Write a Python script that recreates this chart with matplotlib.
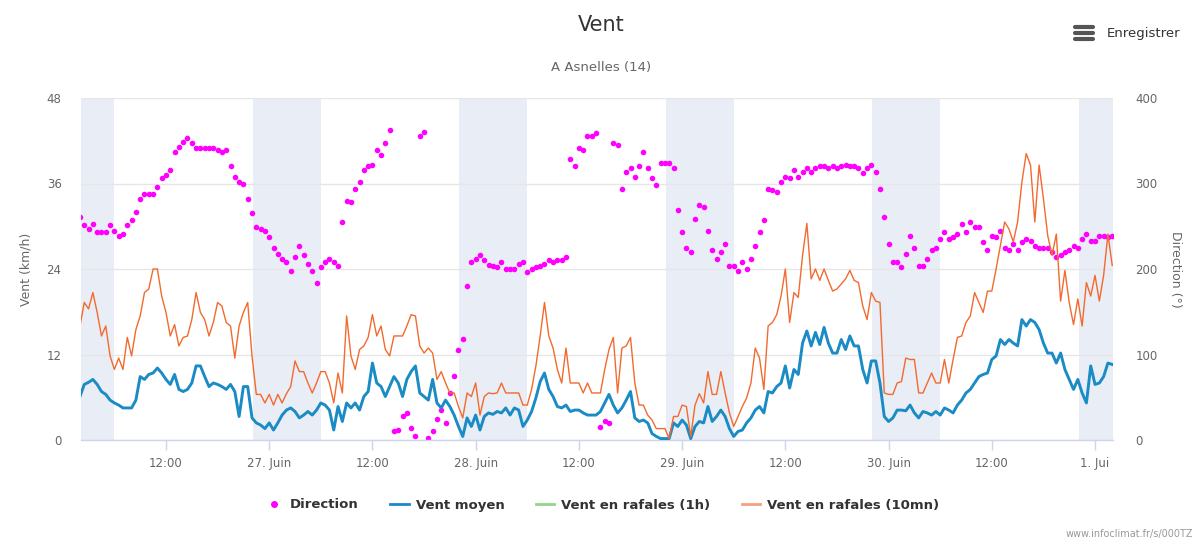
import numpy as np
import matplotlib
matplotlib.use('Agg')
import matplotlib.pyplot as plt
from matplotlib.lines import Line2D

plt.rcParams['font.family'] = ['DejaVu Sans']

# time in hours since 26 June 00:00, every 30 min
hours = np.arange(2.0, 122.01, 0.5)

vent_moyen = [
    6.1, 7.8, 8.1, 8.5, 7.8, 6.8, 6.4, 5.6, 5.2, 4.9, 4.5, 4.5, 4.5, 5.6, 8.9, 8.5,
    9.2, 9.4, 10.1, 9.4, 8.5, 7.8, 9.2, 7.1, 6.8, 7.1, 8.0, 10.4, 10.4, 8.9, 7.5, 8.0,
    7.8, 7.5, 7.1, 7.8, 6.8, 3.3, 7.5, 7.5, 3.1, 2.4, 2.1, 1.6, 2.4, 1.4, 2.4, 3.5,
    4.2, 4.5, 4.0, 3.1, 3.5, 4.0, 3.5, 4.2, 5.2, 4.9, 4.2, 1.4, 4.7, 2.6, 5.2, 4.5,
    5.2, 4.2, 6.1, 6.8, 10.8, 8.0, 7.5, 6.1, 7.5, 8.9, 8.0, 6.1, 8.5, 9.6, 10.4, 6.6,
    6.1, 5.6, 8.5, 5.2, 4.5, 5.6, 4.7, 3.5, 1.9, 0.5, 3.1, 1.9, 3.5, 1.4, 3.3, 3.8,
    3.6, 4.0, 3.8, 4.5, 3.5, 4.5, 4.2, 1.9, 2.8, 4.0, 5.9, 8.2, 9.4, 7.1, 6.1, 4.7,
    4.5, 4.9, 4.0, 4.2, 4.2, 3.8, 3.5, 3.5, 3.5, 4.0, 5.2, 6.4, 4.9, 3.8, 4.5, 5.6,
    6.8, 3.1, 2.6, 2.8, 2.4, 0.9, 0.5, 0.2, 0.2, 0.2, 2.4, 1.9, 2.8, 2.1, 0.2, 1.9,
    2.6, 2.4, 4.7, 2.6, 3.3, 4.2, 3.3, 1.6, 0.5, 1.2, 1.4, 2.4, 3.1, 4.2, 4.7, 3.8,
    6.8, 6.6, 7.5, 8.0, 10.4, 7.3, 9.9, 9.2, 13.6, 15.3, 13.2, 15.1, 13.4, 15.8, 13.6, 12.2,
    12.2, 14.1, 12.7, 14.6, 13.2, 13.2, 9.9, 8.0, 11.1, 11.1, 8.0, 3.3, 2.6, 3.1, 4.2, 4.2,
    4.1, 4.9, 3.8, 3.1, 4.0, 3.8, 3.5, 4.0, 3.5, 4.5, 4.2, 3.8, 4.9, 5.6, 6.6, 7.1,
    8.0, 8.9, 9.2, 9.4, 11.3, 11.8, 14.1, 13.4, 14.1, 13.6, 13.2, 16.9, 16.0, 16.9, 16.5, 15.5,
    13.6, 12.2, 12.2, 10.8, 12.2, 9.9, 8.5, 7.1, 8.5, 6.6, 5.2, 10.4, 7.8, 8.0, 8.9, 10.8,
    10.6,
]

rafales_10mn = [
    16.0, 19.3, 18.4, 20.7, 17.9, 14.6, 16.0, 11.8, 9.9, 11.5, 9.9, 14.4, 11.8, 15.5, 17.4, 20.7,
    21.2, 24.0, 24.0, 20.2, 17.9, 14.6, 16.2, 13.2, 14.4, 14.6, 16.9, 20.7, 17.9, 16.9, 14.6, 16.5,
    19.3, 18.8, 16.5, 16.0, 11.5, 16.0, 17.9, 19.3, 11.8, 6.4, 6.4, 5.2, 6.4, 4.9, 6.4, 5.2,
    6.5, 7.5, 11.1, 9.6, 9.6, 8.0, 6.6, 8.0, 9.6, 9.6, 8.0, 5.2, 9.4, 6.6, 17.4, 11.8,
    9.9, 12.7, 13.2, 14.4, 17.6, 14.6, 16.0, 12.7, 11.8, 14.6, 14.6, 14.6, 16.0, 17.6, 17.4, 13.2,
    12.2, 12.9, 12.2, 8.5, 9.6, 8.0, 6.6, 6.6, 4.7, 3.1, 6.6, 6.1, 8.0, 3.5, 6.1, 6.6,
    6.5, 6.6, 8.0, 6.6, 6.6, 6.6, 6.6, 4.9, 4.9, 7.1, 10.4, 14.6, 19.3, 14.6, 12.9, 9.9,
    8.0, 12.9, 8.0, 8.0, 8.0, 6.6, 8.0, 6.6, 6.6, 6.6, 9.9, 12.7, 14.4, 6.6, 12.9, 13.2,
    14.4, 8.0, 4.9, 4.9, 3.5, 2.8, 1.6, 1.6, 1.6, 0.2, 3.3, 3.3, 4.9, 4.7, 0.5, 4.9,
    6.5, 5.2, 9.6, 6.4, 6.4, 9.6, 6.6, 3.8, 1.9, 3.3, 4.7, 5.9, 8.0, 12.9, 11.5, 7.1,
    16.0, 16.5, 17.6, 20.2, 24.0, 16.5, 20.7, 20.0, 25.9, 30.4, 22.6, 24.0, 22.4, 24.0, 22.4, 20.9,
    21.2, 21.9, 22.6, 23.8, 22.4, 22.1, 18.8, 16.9, 20.7, 19.5, 19.3, 6.6, 6.4, 6.4, 8.0, 8.2,
    11.5, 11.3, 11.3, 6.6, 6.6, 8.0, 9.4, 8.0, 8.0, 11.3, 8.0, 11.3, 14.4, 14.6, 16.5, 17.4,
    20.7, 19.3, 17.9, 20.9, 20.9, 24.0, 27.3, 30.6, 29.6, 27.8, 30.6, 36.2, 40.2, 38.6, 30.6, 38.6,
    33.9, 28.7, 25.9, 28.9, 19.5, 23.8, 19.3, 16.2, 19.8, 16.0, 22.1, 20.2, 23.1, 19.5, 23.1, 28.9,
    24.5,
]

direction = [
    261, 251, 247, 253, 243, 243, 243, 251, 245, 239, 241, 251, 257, 267, 282, 288,
    288, 288, 296, 306, 310, 316, 337, 343, 349, 353, 347, 341, 341, 341, 341, 341,
    339, 337, 339, 320, 308, 302, 300, 282, 265, 249, 247, 245, 237, 224, 218, 212,
    208, 198, 214, 227, 216, 206, 198, 184, 202, 208, 212, 208, 204, 255, 280, 278,
    294, 302, 316, 320, 322, 339, 333, 347, 363, 10, 12, 28, 31, 14, 5, 355,
    360, 2, 10, 25, 35, 20, 55, 75, 105, 118, 180, 208, 212, 216, 210, 205,
    204, 202, 208, 200, 200, 200, 206, 208, 196, 200, 202, 204, 206, 210, 208, 210,
    210, 214, 329, 321, 341, 339, 355, 355, 359, 15, 22, 20, 347, 345, 294, 314,
    318, 308, 320, 337, 318, 306, 298, 324, 324, 324, 318, 269, 243, 225, 220, 259,
    275, 273, 245, 222, 212, 220, 229, 204, 204, 198, 208, 200, 212, 227, 243, 257,
    294, 292, 290, 302, 308, 306, 316, 308, 314, 318, 314, 318, 320, 320, 318, 320,
    318, 320, 322, 320, 320, 318, 312, 318, 322, 314, 294, 261, 229, 208, 208, 202,
    218, 239, 224, 204, 204, 212, 222, 225, 235, 243, 235, 237, 241, 253, 243, 255,
    249, 249, 231, 222, 239, 237, 245, 224, 222, 229, 222, 231, 235, 233, 227, 224,
    224, 224, 220, 214, 216, 220, 222, 227, 224, 235, 241, 233, 233, 239, 239, 237,
    239,
]

night_start = [2.0, 22.1, 46.1, 70.1, 94.1, 118.1]
night_end = [6.0, 30.0, 54.0, 78.0, 102.0, 122.1]

tick_hours = [12, 24, 36, 48, 60, 72, 84, 96, 108, 120]
tick_labels = ['12:00', '27. Juin', '12:00', '28. Juin', '12:00', '29. Juin',
               '12:00', '30. Juin', '12:00', '1. Jui']
left_ticks = [0, 12, 24, 36, 48]
right_ticks = [0, 100, 200, 300, 400]

C_DIR = '#ff00ff'
C_MOY = '#1a8bc4'
C_1H = '#90d68a'
C_10 = '#f26a2e'
C_10_LEG = '#f5a07a'
GRID = '#e6e6e6'
AXC = '#ccd6eb'
TXT = '#666666'

fig = plt.figure(figsize=(12.03, 5.42), dpi=100)
ax = fig.add_axes([81/1203, 1-440/542, (1113-81)/1203, (440-98)/542])
ax2 = ax.twinx()
ax.set_zorder(2)
ax2.set_zorder(1)
ax.patch.set_visible(False)
ax2.set_facecolor('white')

xmin, xmax = 2.12, 122.09
for s, e in zip(night_start, night_end):
    ax2.axvspan(s, e, color='#e9edf5', lw=0, zorder=0)

ax2.set_ylim(0, 400)
ax2.set_yticks(right_ticks)
ax2.yaxis.grid(True, color=GRID, lw=1)
ax2.set_axisbelow(True)
ax2.scatter(hours, direction, s=16, color=C_DIR, lw=0, zorder=3)

ax.plot(hours, vent_moyen, color=C_MOY, lw=2.1, zorder=3, solid_joinstyle='round')
ax.plot(hours, rafales_10mn, color=C_10, lw=1.0, zorder=4)
ax.set_ylim(0, 48)
ax.set_xlim(xmin, xmax)
ax2.set_xlim(xmin, xmax)
ax.set_yticks(left_ticks)
ax.set_xticks(tick_hours)
ax.set_xticklabels(tick_labels)

for a in (ax, ax2):
    for sp in ('top', 'left', 'right'):
        a.spines[sp].set_visible(False)
ax2.spines['bottom'].set_visible(False)
ax.spines['bottom'].set_color(AXC)
ax.spines['bottom'].set_linewidth(1)

ax.tick_params(axis='x', length=7.5, color=AXC, width=1, pad=5, labelsize=8.5, labelcolor=TXT)
ax.tick_params(axis='y', length=0, pad=14, labelsize=8.5, labelcolor=TXT)
ax2.tick_params(axis='y', length=0, pad=16, labelsize=8.5, labelcolor=TXT)
ax2.tick_params(axis='x', length=0, labelbottom=False)

ax.set_ylabel('Vent (km/h)', color=TXT, fontsize=9, labelpad=10)
ax2.set_ylabel('Direction (°)', color=TXT, fontsize=9, rotation=270, labelpad=18)

fig.text(0.5, 1-25/542, 'Vent', ha='center', va='center', fontsize=15, color='#333333')
fig.text(0.5, 1-67/542, 'A Asnelles (14)', ha='center', va='center', fontsize=9.5, color=TXT)
fig.text(1107/1203, 1-33/542, 'Enregistrer', ha='left', va='center', fontsize=9.5, color='#333333')
for yy in (27, 33, 39):
    fig.add_artist(Line2D([1075/1203, 1093/1203], [1-yy/542, 1-yy/542], color='#555555',
                          lw=3.0, solid_capstyle='round', transform=fig.transFigure))
fig.text(1193/1203, 1-534/542, 'www.infoclimat.fr/s/000TZ', ha='right', va='center',
         fontsize=7, color='#999999')

handles = [
    Line2D([], [], marker='o', ls='none', color=C_DIR, markersize=4),
    Line2D([], [], color=C_MOY, lw=2),
    Line2D([], [], color=C_1H, lw=2),
    Line2D([], [], color=C_10_LEG, lw=2),
]
labels = ['Direction', 'Vent moyen', 'Vent en rafales (1h)', 'Vent en rafales (10mn)']
fig.legend(handles, labels, loc='center', bbox_to_anchor=(602/1203, 1-505/542), ncol=4,
           frameon=False, prop={'weight': 'bold', 'size': 9.5}, handlelength=1.4,
           handletextpad=0.5, columnspacing=2.4, labelcolor='#333333')

fig.savefig('out.png', dpi=100)
